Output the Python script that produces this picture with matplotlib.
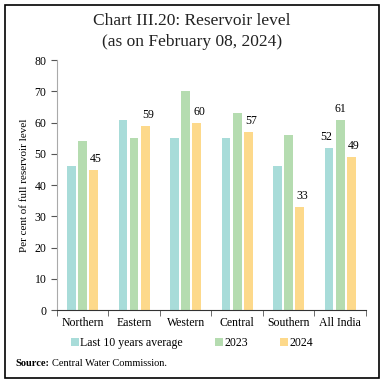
import numpy as np
import matplotlib
matplotlib.use("Agg")
import matplotlib.pyplot as plt
from matplotlib.patches import Rectangle

plt.rcParams["font.family"] = ["Liberation Serif", "DejaVu Serif"]

regions = ["Northern", "Eastern", "Western", "Central", "Southern", "All India"]
avg10 = [46, 61, 55, 55, 46, 52]
y2023 = [54, 55, 70, 63, 56, 61]
y2024 = [45, 59, 60, 57, 33, 49]
series_names = ["Last 10 years average", "2023", "2024"]
colors = ["#a8dcd9", "#b5dcb0", "#fdd98b"]


def main():
    fig = plt.figure(figsize=(3.84, 3.83), dpi=100)
    ax = fig.add_axes([0.148, 0.19, 0.805, 0.653])

    x = np.arange(len(regions))
    w = 0.17
    off = 0.215
    bars = []
    for i, (vals, c) in enumerate(zip([avg10, y2023, y2024], colors)):
        b = ax.bar(x + (i - 1) * off, vals, width=w, color=c, label=series_names[i])
        bars.append(b)

    # labels: 2024 everywhere, all three for All India
    for xi, v in zip(x, y2024):
        ax.text(xi + off + 0.05, v + 1.5, str(v), ha="center", va="bottom", fontsize=8.5)
    last = len(regions) - 1
    ax.text(last - off - 0.05, avg10[last] + 1.5, str(avg10[last]), ha="center", va="bottom", fontsize=8.5)
    ax.text(last, y2023[last] + 1.5, str(y2023[last]), ha="center", va="bottom", fontsize=8.5)

    ax.set_xlim(-0.5, len(regions) - 0.5)
    ax.set_ylim(0, 80)
    ax.set_yticks(range(0, 81, 10))
    ax.set_xticks(x)
    ax.set_xticklabels(regions, fontsize=8.5)
    ax.set_xticks(np.arange(-0.5, len(regions), 1), minor=True)
    ax.tick_params(axis="x", which="major", length=0, pad=5)
    ax.tick_params(axis="x", which="minor", length=4, color="#555555")
    ax.tick_params(axis="y", labelsize=8.5, length=4, color="#555555")
    for s in ["top", "right"]:
        ax.spines[s].set_visible(False)
    ax.spines["left"].set_color("#aaaaaa")
    ax.spines["bottom"].set_color("#333333")
    ax.set_ylabel("Per cent of full reservoir level", fontsize=8)

    fig.text(0.5, 0.945, "Chart III.20: Reservoir level", ha="center", va="center",
             fontsize=12.5, color="#222222")
    fig.text(0.5, 0.89, "(as on February 08, 2024)", ha="center", va="center",
             fontsize=12.5, color="#222222")

    fig.legend(handles=bars, labels=series_names, loc="center", bbox_to_anchor=(0.5, 0.105),
               ncol=3, frameon=False, fontsize=8.5, handlelength=0.7, handleheight=0.7,
               handletextpad=0.1, columnspacing=2.7)

    src = fig.text(0.04, 0.045, "Source:", fontsize=7.5, fontweight="bold")
    fig.canvas.draw()
    bb = src.get_window_extent().transformed(fig.transFigure.inverted())
    fig.text(bb.x1 + 0.008, 0.045, "Central Water Commission.", fontsize=7.5)

    fig.add_artist(Rectangle((0.012, 0.012), 0.976, 0.976, transform=fig.transFigure,
                             fill=False, edgecolor="black", linewidth=1.2))

    fig.savefig("out.png", dpi=100)


if __name__ == "__main__":
    main()
